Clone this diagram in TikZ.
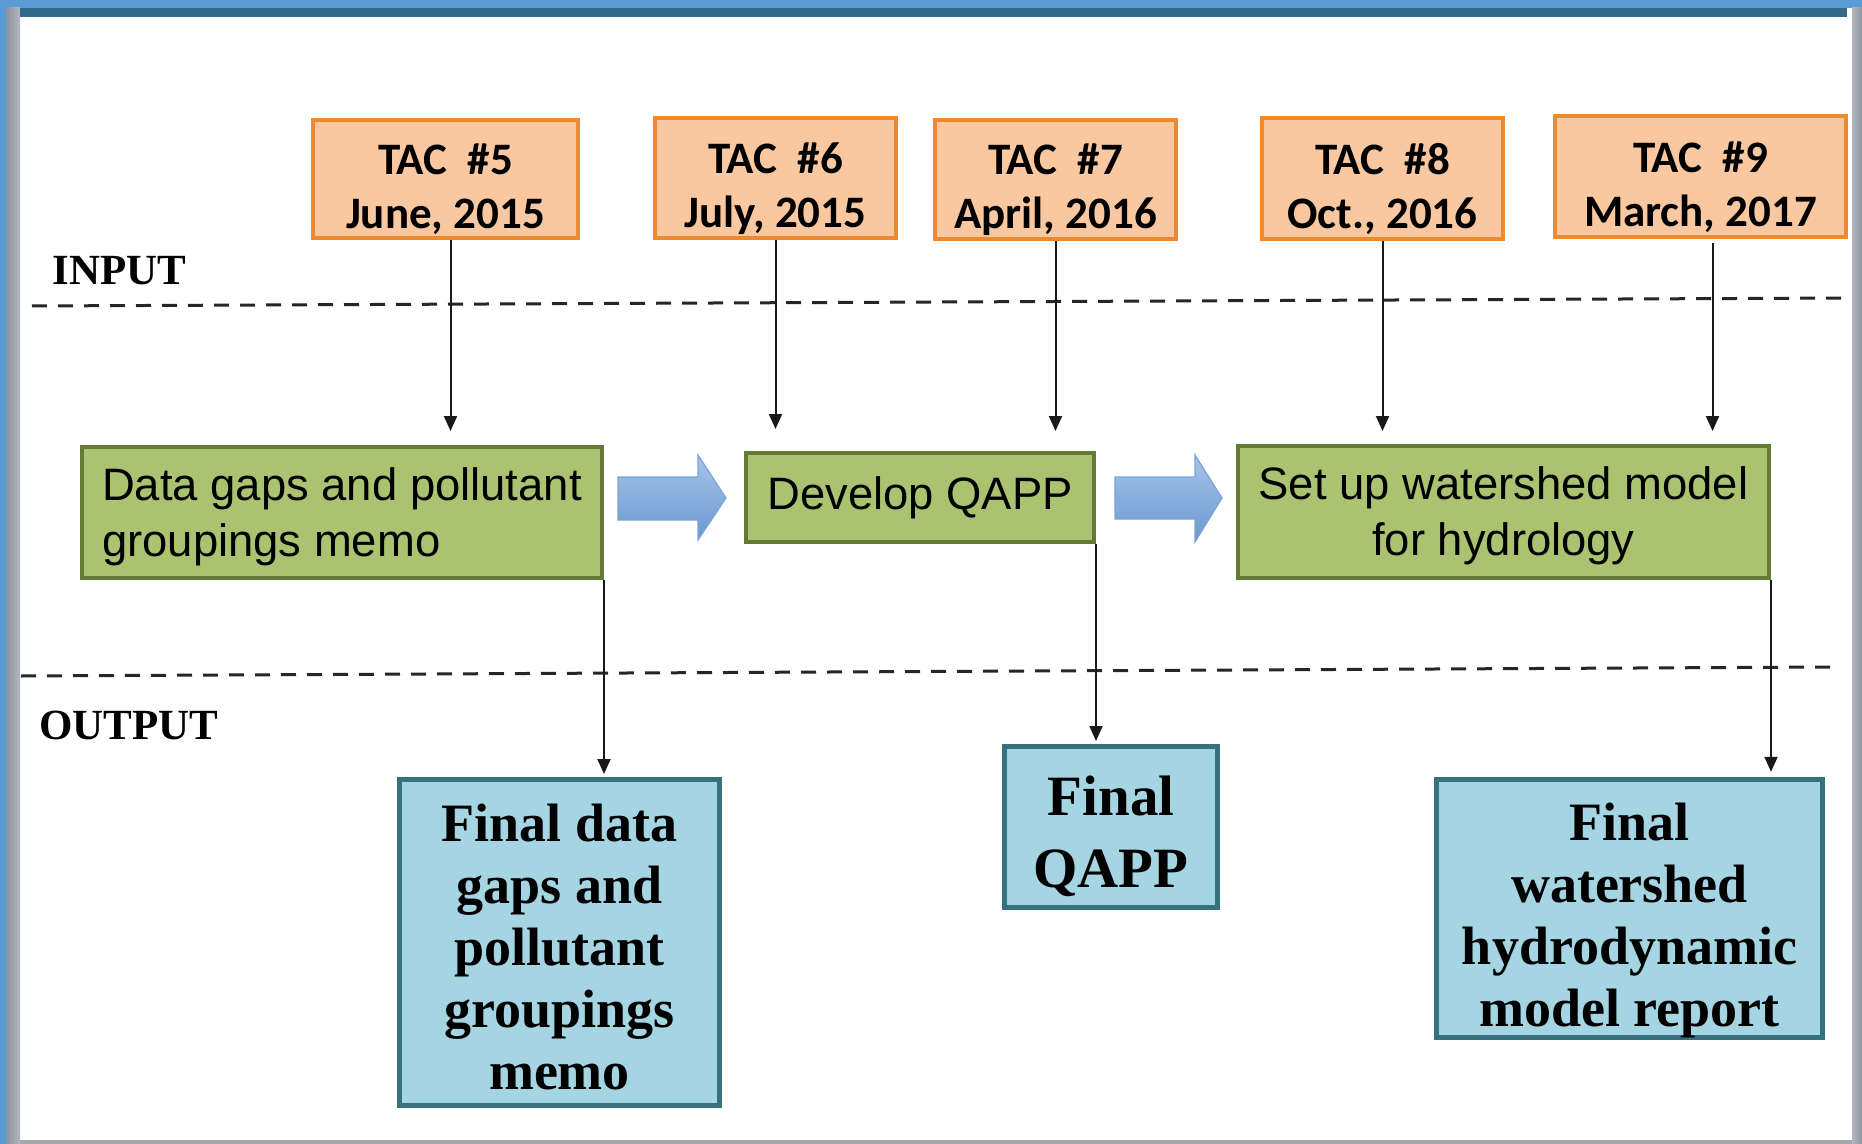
\documentclass[tikz,border=0pt]{standalone}
\usepackage{fontspec}
\setmainfont{Liberation Serif}
\newfontfamily\tacf{Carlito}
\newfontfamily\arialf{Liberation Sans}
\usetikzlibrary{arrows.meta}
\definecolor{frameblue}{HTML}{5B9BD5}
\definecolor{framedark}{HTML}{336A8A}
\definecolor{graydark}{HTML}{8E929E}
\definecolor{graylight}{HTML}{B4B7C0}
\definecolor{tacfill}{HTML}{FAC8A0}
\definecolor{tacedge}{HTML}{EB8A2E}
\definecolor{gfill}{HTML}{ABC270}
\definecolor{gedge}{HTML}{647B36}
\definecolor{bfill}{HTML}{A5D4E2}
\definecolor{bedge}{HTML}{35717F}
\definecolor{arrtop}{HTML}{A6C4E9}
\definecolor{arrbot}{HTML}{6B98CF}
\definecolor{arredge}{HTML}{7AA3D6}
\newcommand{\topstrut}[1]{\rule{0pt}{#1}}
\begin{document}
\begin{tikzpicture}[x=0.5pt,y=-0.5pt,
  tacbox/.style={draw=tacedge, fill=tacfill, line width=2pt, align=center, inner sep=0pt,
    font=\tacf\bfseries\fontsize{22.5pt}{27pt}\selectfont},
  greenbox/.style={draw=gedge, fill=gfill, line width=2pt, inner sep=0pt,
    font=\arialf\fontsize{22.7pt}{28pt}\selectfont},
  outbox/.style={draw=bedge, fill=bfill, line width=2.5pt, inner sep=0pt, align=center,
    font=\bfseries\fontsize{27pt}{31pt}\selectfont},
  arr/.style={line width=1pt, draw=black!90, -{Triangle[length=7.5pt,width=6.5pt]}},
  sepline/.style={line width=1.5pt, dash pattern=on 7.5pt off 5.5pt, draw=black!85},
  lbl/.style={font=\bfseries\fontsize{21.5pt}{24pt}\selectfont, inner sep=0pt, anchor=base west},
  blockarrow/.style={top color=arrtop, bottom color=arrbot, draw=arredge, line width=0.6pt}]
\useasboundingbox (0,0) rectangle (1862,1144);
% frame
\fill[white] (0,0) rectangle (1862,1144);
\fill[frameblue] (0,0) rectangle (1862,8);
\fill[frameblue] (0,0) rectangle (6,1144);
\shade[left color=graydark, right color=graylight] (6,8) rectangle (20,1144);
\fill[framedark] (20,8) rectangle (1847,17);
\shade[left color=graylight, right color=graydark] (1852,8) rectangle (1862,1144);
\fill[graydark!80] (20,1140) rectangle (1852,1144);

% separators
\draw[sepline] (32,306) -- (1850,298);
\draw[sepline] (21,676) -- (1838,667);

% labels
\node[lbl] (inlbl) at (52,285) {INPUT};
\node[lbl] (outlbl) at (39,739) {OUTPUT};

% TAC boxes
\node[tacbox, minimum width=132.5pt, minimum height=59pt] (t5) at (445.5,179) {\topstrut{26pt}TAC\ \ \#5\\June, 2015};
\node[tacbox, minimum width=120.5pt, minimum height=60pt] (t6) at (775.5,178) {\topstrut{26pt}TAC\ \ \#6\\July, 2015};
\node[tacbox, minimum width=120.5pt, minimum height=59.5pt] (t7) at (1055.5,179.5) {\topstrut{26pt}TAC\ \ \#7\\April, 2016};
\node[tacbox, minimum width=120.5pt, minimum height=60.5pt] (t8) at (1382.5,178.5) {\topstrut{26pt}TAC\ \ \#8\\Oct., 2016};
\node[tacbox, minimum width=145.5pt, minimum height=60.5pt] (t9) at (1700.5,176.5) {\topstrut{26pt}TAC\ \ \#9\\March, 2017};

% green process boxes
\node[greenbox, align=left, minimum width=260pt, minimum height=65.5pt] (g1) at (342,512.5) {\topstrut{20.5pt}Data gaps and pollutant\\groupings memo};
\node[greenbox, align=center, minimum width=174pt, minimum height=44.5pt] (g2) at (920,497.5) {Develop QAPP};
\node[greenbox, align=center, minimum width=265.5pt, minimum height=66pt] (g3) at (1503.5,512) {\topstrut{20.5pt}Set up watershed model\\for hydrology};

% output boxes
\node[outbox, minimum width=160pt, minimum height=163pt] (b1) at (559.5,942.5) {\topstrut{23.5pt}Final data\\gaps and\\pollutant\\groupings\\memo};
\node[outbox, minimum width=106.5pt, minimum height=80.5pt, font=\bfseries\fontsize{28.5pt}{36pt}\selectfont] (b2) at (1111,827) {\topstrut{29.5pt}Final\\QAPP};
\node[outbox, minimum width=193pt, minimum height=128pt] (b3) at (1629.5,908.5) {\topstrut{30.5pt}Final\\watershed\\hydrodynamic\\model report};

% block arrows
\path[blockarrow] (618,477) -- (698,477) -- (698,455) -- (726,498) -- (698,540) -- (698,520) -- (618,520) -- cycle;
\path[blockarrow] (1115,477) -- (1195,477) -- (1195,455) -- (1222,498) -- (1195,542) -- (1195,519) -- (1115,519) -- cycle;

% input arrows
\draw[arr, shorten >=7pt] ([xshift=2.5pt]t5.south) -- ([xshift=2.5pt]t5.south |- g1.north);
\draw[arr, shorten >=11pt] (t6.south) -- (t6.south |- g2.north);
\draw[arr, shorten >=10pt] (t7.south) -- (t7.south |- g2.north);
\draw[arr, shorten >=6.5pt] (t8.south) -- (t8.south |- g3.north);
\draw[arr, shorten <=2pt, shorten >=6.5pt] ([xshift=6pt]t9.south) -- ([xshift=6pt]t9.south |- g3.north);

% output arrows
\draw[arr, shorten >=1.5pt] (g1.south east) -- (g1.south east |- b1.north);
\draw[arr, shorten >=1.5pt] (g2.south east) -- (g2.south east |- b2.north);
\draw[arr, shorten >=2.5pt] (g3.south east) -- (g3.south east |- b3.north);
\end{tikzpicture}
\end{document}
